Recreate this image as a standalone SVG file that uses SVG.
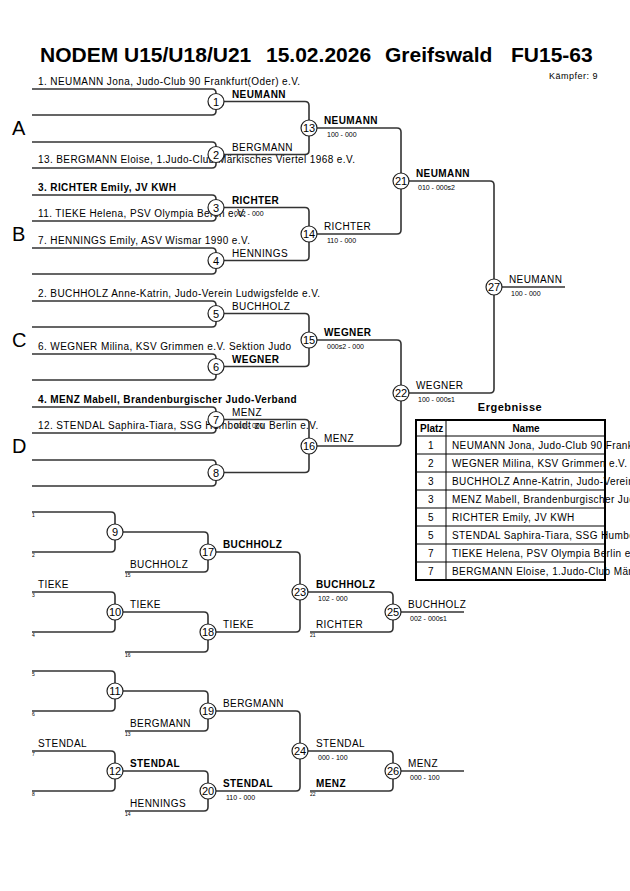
<svg xmlns="http://www.w3.org/2000/svg" width="630" height="891" viewBox="0 0 630 891">
<style>
text{font-family:"Liberation Sans",Arial,sans-serif;fill:#000}
.t{font-size:10px;letter-spacing:0.4px}
.b{font-weight:bold}
.s{font-size:7px;fill:#603030}
.m{font-size:5px;fill:#5a7090}
.cn{font-size:11px;text-anchor:middle}
.ln{fill:none;stroke:#333;stroke-width:1.6}
.c{fill:#fff;stroke:#222;stroke-width:1.2}
.grid{fill:none;stroke:#000;stroke-width:1}
</style>
<rect width="630" height="891" fill="#fff"/>
<g id="title">
<text x="40" y="62" class="b" font-size="21">NODEM U15/U18/U21</text>
<text x="266" y="62" class="b" font-size="21">15.02.2026</text>
<text x="385" y="62" class="b" font-size="21">Greifswald</text>
<text x="511" y="62" class="b" font-size="21">FU15-63</text>
<text x="549" y="79" font-size="9" letter-spacing="0.5">Kämpfer: 9</text>
</g>
<g id="pools" font-size="20">
<text x="12" y="135">A</text>
<text x="12" y="241">B</text>
<text x="12" y="347">C</text>
<text x="12" y="453">D</text>
</g>
<g id="connectors" class="ln">
<path d="M32,89H212Q216,89 216,93V101.5M32,115H212Q216,115 216,111V101.5"/>
<path d="M32,142H212Q216,142 216,146V154.5M32,168H212Q216,168 216,164V154.5"/>
<path d="M32,195H212Q216,195 216,199V207.5M32,221H212Q216,221 216,217V207.5"/>
<path d="M32,248H212Q216,248 216,252V260.5M32,274H212Q216,274 216,270V260.5"/>
<path d="M32,301H212Q216,301 216,305V313.5M32,327H212Q216,327 216,323V313.5"/>
<path d="M32,354H212Q216,354 216,358V366.5M32,380H212Q216,380 216,376V366.5"/>
<path d="M32,407H212Q216,407 216,411V419.5M32,433H212Q216,433 216,429V419.5"/>
<path d="M32,460H212Q216,460 216,464V472.5M32,486H212Q216,486 216,482V472.5"/>
<path d="M216,101.5H305Q309,101.5 309,105.5V128M216,154.5H305Q309,154.5 309,150.5V128"/>
<path d="M216,207.5H305Q309,207.5 309,211.5V234M216,260.5H305Q309,260.5 309,256.5V234"/>
<path d="M216,313.5H305Q309,313.5 309,317.5V340M216,366.5H305Q309,366.5 309,362.5V340"/>
<path d="M216,419.5H305Q309,419.5 309,423.5V446M216,472.5H305Q309,472.5 309,468.5V446"/>
<path d="M309,128H397Q401,128 401,132V181M309,234H397Q401,234 401,230V181"/>
<path d="M309,340H397Q401,340 401,344V393M309,446H397Q401,446 401,442V393"/>
<path d="M401,181H490Q494,181 494,185V287M401,393H490Q494,393 494,389V287"/>
<path d="M494,287H565"/>
<path d="M32,512H111Q115,512 115,516V532M32,552H111Q115,552 115,548V532"/>
<path d="M32,592H111Q115,592 115,596V612M32,632H111Q115,632 115,628V612"/>
<path d="M115,532H204Q208,532 208,536V552M125,572H204Q208,572 208,568V552"/>
<path d="M115,612H204Q208,612 208,616V632M125,652H204Q208,652 208,648V632"/>
<path d="M208,552H296Q300,552 300,556V592M208,632H296Q300,632 300,628V592"/>
<path d="M300,592H389Q393,592 393,596V612M310,632H389Q393,632 393,628V612"/>
<path d="M393,612H464"/>
<path d="M32,671H111Q115,671 115,675V691M32,711H111Q115,711 115,707V691"/>
<path d="M32,751H111Q115,751 115,755V771M32,791H111Q115,791 115,787V771"/>
<path d="M115,691H204Q208,691 208,695V711M125,731H204Q208,731 208,727V711"/>
<path d="M115,771H204Q208,771 208,775V791M125,811H204Q208,811 208,807V791"/>
<path d="M208,711H296Q300,711 300,715V751M208,791H296Q300,791 300,787V751"/>
<path d="M300,751H389Q393,751 393,755V771M310,791H389Q393,791 393,787V771"/>
<path d="M393,771H464"/>
</g>
<g id="entrants" class="t">
<text x="38" y="85">1. NEUMANN Jona, Judo-Club 90 Frankfurt(Oder) e.V.</text>
<text x="38" y="163">13. BERGMANN Eloise, 1.Judo-Club Märkisches Viertel 1968 e.V.</text>
<text x="38" y="191" class="b">3. RICHTER Emily, JV KWH</text>
<text x="38" y="217">11. TIEKE Helena, PSV Olympia Berlin e.V.</text>
<text x="38" y="244">7. HENNINGS Emily, ASV Wismar 1990 e.V.</text>
<text x="38" y="297">2. BUCHHOLZ Anne-Katrin, Judo-Verein Ludwigsfelde e.V.</text>
<text x="38" y="350">6. WEGNER Milina, KSV Grimmen e.V. Sektion Judo</text>
<text x="38" y="403" class="b">4. MENZ Mabell, Brandenburgischer Judo-Verband</text>
<text x="38" y="429">12. STENDAL Saphira-Tiara, SSG Humboldt zu Berlin e.V.</text>
</g>
<g id="winners" class="t">
<text x="232" y="97.5" class="b">NEUMANN</text>
<text x="232" y="150.5">BERGMANN</text>
<text x="232" y="203.5" class="b">RICHTER</text>
<text x="232" y="256.5">HENNINGS</text>
<text x="232" y="309.5">BUCHHOLZ</text>
<text x="232" y="362.5" class="b">WEGNER</text>
<text x="232" y="415.5">MENZ</text>
<text x="324" y="124" class="b">NEUMANN</text>
<text x="324" y="230">RICHTER</text>
<text x="324" y="336" class="b">WEGNER</text>
<text x="324" y="442">MENZ</text>
<text x="416" y="177" class="b">NEUMANN</text>
<text x="416" y="389">WEGNER</text>
<text x="509" y="283">NEUMANN</text>
<text x="38" y="588">TIEKE</text>
<text x="130" y="608">TIEKE</text>
<text x="130" y="568">BUCHHOLZ</text>
<text x="223" y="548" class="b">BUCHHOLZ</text>
<text x="223" y="628">TIEKE</text>
<text x="316" y="588" class="b">BUCHHOLZ</text>
<text x="316" y="628">RICHTER</text>
<text x="408" y="608">BUCHHOLZ</text>
<text x="38" y="747">STENDAL</text>
<text x="130" y="767" class="b">STENDAL</text>
<text x="130" y="727">BERGMANN</text>
<text x="223" y="707">BERGMANN</text>
<text x="130" y="807">HENNINGS</text>
<text x="223" y="787" class="b">STENDAL</text>
<text x="316" y="747">STENDAL</text>
<text x="316" y="787" class="b">MENZ</text>
<text x="408" y="767">MENZ</text>
</g>
<g id="scores" class="s">
<text x="234" y="216">002 - 000</text>
<text x="234" y="428">010 - 000</text>
<text x="327" y="137">100 - 000</text>
<text x="327" y="243">110 - 000</text>
<text x="327" y="349">000s2 - 000</text>
<text x="418" y="190">010 - 000s2</text>
<text x="418" y="402">100 - 000s1</text>
<text x="511" y="296">100 - 000</text>
<text x="318" y="601">102 - 000</text>
<text x="410" y="621">002 - 000s1</text>
<text x="226" y="800">110 - 000</text>
<text x="318" y="760">000 - 100</text>
<text x="410" y="780">000 - 100</text>
</g>
<g id="seeds" class="m">
<text x="32" y="517">1</text><text x="32" y="557">2</text><text x="32" y="597">3</text><text x="32" y="637">4</text>
<text x="125" y="577">15</text><text x="125" y="657">16</text><text x="310" y="637">21</text>
<text x="32" y="676">5</text><text x="32" y="716">6</text><text x="32" y="756">7</text><text x="32" y="796">8</text>
<text x="125" y="736">13</text><text x="125" y="816">14</text><text x="310" y="796">22</text>
</g>
<g id="m1"><circle class="c" cx="216" cy="101.5" r="8"/><text class="cn" x="216" y="105.5">1</text></g>
<g id="m2"><circle class="c" cx="216" cy="154.5" r="8"/><text class="cn" x="216" y="158.5">2</text></g>
<g id="m3"><circle class="c" cx="216" cy="207.5" r="8"/><text class="cn" x="216" y="211.5">3</text></g>
<g id="m4"><circle class="c" cx="216" cy="260.5" r="8"/><text class="cn" x="216" y="264.5">4</text></g>
<g id="m5"><circle class="c" cx="216" cy="313.5" r="8"/><text class="cn" x="216" y="317.5">5</text></g>
<g id="m6"><circle class="c" cx="216" cy="366.5" r="8"/><text class="cn" x="216" y="370.5">6</text></g>
<g id="m7"><circle class="c" cx="216" cy="419.5" r="8"/><text class="cn" x="216" y="423.5">7</text></g>
<g id="m8"><circle class="c" cx="216" cy="472.5" r="8"/><text class="cn" x="216" y="476.5">8</text></g>
<g id="m13"><circle class="c" cx="309" cy="128" r="8"/><text class="cn" x="309" y="132">13</text></g>
<g id="m14"><circle class="c" cx="309" cy="234" r="8"/><text class="cn" x="309" y="238">14</text></g>
<g id="m15"><circle class="c" cx="309" cy="340" r="8"/><text class="cn" x="309" y="344">15</text></g>
<g id="m16"><circle class="c" cx="309" cy="446" r="8"/><text class="cn" x="309" y="450">16</text></g>
<g id="m21"><circle class="c" cx="401" cy="181" r="8"/><text class="cn" x="401" y="185">21</text></g>
<g id="m22"><circle class="c" cx="401" cy="393" r="8"/><text class="cn" x="401" y="397">22</text></g>
<g id="m27"><circle class="c" cx="494" cy="287" r="8"/><text class="cn" x="494" y="291">27</text></g>
<g id="m9"><circle class="c" cx="115" cy="532" r="8"/><text class="cn" x="115" y="536">9</text></g>
<g id="m10"><circle class="c" cx="115" cy="612" r="8"/><text class="cn" x="115" y="616">10</text></g>
<g id="m17"><circle class="c" cx="208" cy="552" r="8"/><text class="cn" x="208" y="556">17</text></g>
<g id="m18"><circle class="c" cx="208" cy="632" r="8"/><text class="cn" x="208" y="636">18</text></g>
<g id="m23"><circle class="c" cx="300" cy="592" r="8"/><text class="cn" x="300" y="596">23</text></g>
<g id="m25"><circle class="c" cx="393" cy="612" r="8"/><text class="cn" x="393" y="616">25</text></g>
<g id="m11"><circle class="c" cx="115" cy="691" r="8"/><text class="cn" x="115" y="695">11</text></g>
<g id="m12"><circle class="c" cx="115" cy="771" r="8"/><text class="cn" x="115" y="775">12</text></g>
<g id="m19"><circle class="c" cx="208" cy="711" r="8"/><text class="cn" x="208" y="715">19</text></g>
<g id="m20"><circle class="c" cx="208" cy="791" r="8"/><text class="cn" x="208" y="795">20</text></g>
<g id="m24"><circle class="c" cx="300" cy="751" r="8"/><text class="cn" x="300" y="755">24</text></g>
<g id="m26"><circle class="c" cx="393" cy="771" r="8"/><text class="cn" x="393" y="775">26</text></g>
<g id="results">
<text x="510" y="411" class="b" font-size="11" letter-spacing="0.5" text-anchor="middle">Ergebnisse</text>
<path class="grid" d="M416,436H605M416,454H605M416,472H605M416,490H605M416,508H605M416,526H605M416,544H605M416,562H605M446,420V580"/>
<rect x="416" y="420" width="189" height="160" fill="none" stroke="#000" stroke-width="2"/>
<text x="420" y="432" class="b" font-size="10">Platz</text>
<text x="526" y="432" class="b" font-size="10" text-anchor="middle">Name</text>
<g class="t" text-anchor="middle">
<text x="431" y="449">1</text><text x="431" y="467">2</text><text x="431" y="485">3</text><text x="431" y="503">3</text>
<text x="431" y="521">5</text><text x="431" y="539">5</text><text x="431" y="557">7</text><text x="431" y="575">7</text>
</g>
<g class="t">
<text x="452" y="449">NEUMANN Jona, Judo-Club 90 Frankfurt(Oder) e.V.</text>
<text x="452" y="467">WEGNER Milina, KSV Grimmen e.V. Sektion Judo</text>
<text x="452" y="485">BUCHHOLZ Anne-Katrin, Judo-Verein Ludwigsfelde e.V.</text>
<text x="452" y="503">MENZ Mabell, Brandenburgischer Judo-Verband</text>
<text x="452" y="521">RICHTER Emily, JV KWH</text>
<text x="452" y="539">STENDAL Saphira-Tiara, SSG Humboldt zu Berlin e.V.</text>
<text x="452" y="557">TIEKE Helena, PSV Olympia Berlin e.V.</text>
<text x="452" y="575">BERGMANN Eloise, 1.Judo-Club Märkisches Viertel 1968 e.V.</text>
</g>
</g>
</svg>
